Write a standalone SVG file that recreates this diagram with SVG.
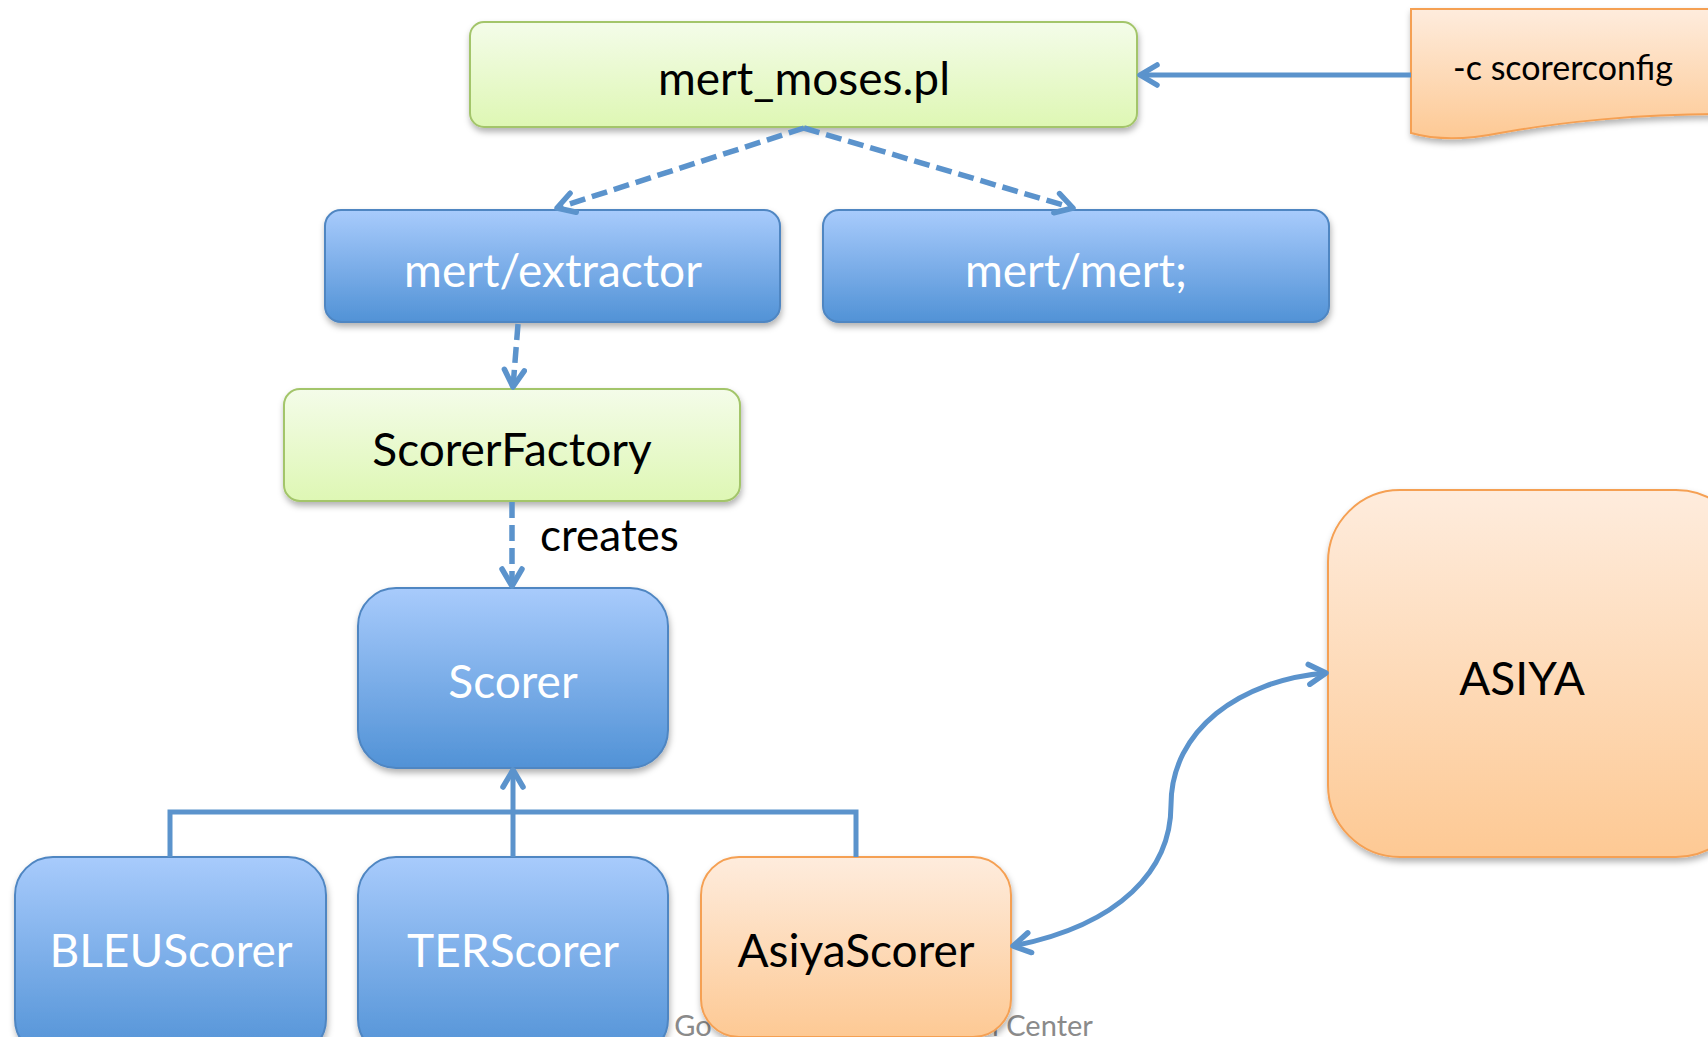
<svg xmlns="http://www.w3.org/2000/svg" width="1708" height="1037" viewBox="0 0 1708 1037">
<defs>
<linearGradient id="gGreen" x1="0" y1="0" x2="0" y2="1">
<stop offset="0" stop-color="#f4fce9"/>
<stop offset="1" stop-color="#def7b4"/>
</linearGradient>
<linearGradient id="gBlue" x1="0" y1="0" x2="0" y2="1">
<stop offset="0" stop-color="#a8cbfc"/>
<stop offset="1" stop-color="#5192d6"/>
</linearGradient>
<linearGradient id="gOrange" x1="0" y1="0" x2="0" y2="1">
<stop offset="0" stop-color="#feecdd"/>
<stop offset="1" stop-color="#fdc994"/>
</linearGradient>
<filter id="sh" x="-10%" y="-10%" width="120%" height="130%">
<feDropShadow dx="1" dy="4" stdDeviation="3" flood-color="#000" flood-opacity="0.3"/>
</filter>
<marker id="arr" viewBox="0 0 26 26" refX="22" refY="13" markerWidth="26" markerHeight="26" markerUnits="userSpaceOnUse" orient="auto-start-reverse">
<path d="M5,3 L22,13 L5,23" fill="none" stroke="#5b93cc" stroke-width="5.5" stroke-linecap="round" stroke-linejoin="round"/>
</marker>
</defs>
<style>
.green{fill:url(#gGreen);stroke:#a3c56a;stroke-width:2;filter:url(#sh)}
.blue{fill:url(#gBlue);stroke:#4f86c2;stroke-width:2;filter:url(#sh)}
.orange{fill:url(#gOrange);stroke:#f5a053;stroke-width:2;filter:url(#sh)}
.t{font-family:Lato,"Open Sans",sans-serif;font-size:46px;text-anchor:middle}
.dk{fill:#000}
.wh{fill:#fff}
.foot{font-family:Lato,"Open Sans",sans-serif;font-size:29px;fill:#8a8a8a}
.lbl{font-family:Lato,"Open Sans",sans-serif;font-size:44px;fill:#000}
.c{fill:none;stroke:#5b93cc;stroke-width:5}
.d{stroke-width:5.5;stroke-dasharray:16 7}
</style>

<g id="footer">
<text class="foot" x="660" y="1036">l Go</text>
<text class="foot" x="992" y="1036">l Center</text>
</g>

<g id="n_mert_moses">
<rect class="green" x="470" y="22" width="667" height="105" rx="14"/>
<text class="t dk" x="804" y="95">mert_moses.pl</text>
</g>

<g id="n_scorerconfig">
<path class="orange" d="M1411,9 H1720 V114 C1640,114 1560,122 1500,133 C1460,141 1432,139 1411,133 Z"/>
<text class="t dk" x="1563" y="80" style="font-size:34px">-c scorerconfig</text>
</g>

<g id="n_extractor">
<rect class="blue" x="325" y="210" width="455" height="112" rx="16"/>
<text class="t wh" x="553" y="287">mert/extractor</text>
</g>

<g id="n_mert">
<rect class="blue" x="823" y="210" width="506" height="112" rx="16"/>
<text class="t wh" x="1076" y="287">mert/mert;</text>
</g>

<g id="n_factory">
<rect class="green" x="284" y="389" width="456" height="112" rx="16"/>
<text class="t dk" x="512" y="466">ScorerFactory</text>
</g>

<g id="n_scorer">
<rect class="blue" x="358" y="588" width="310" height="180" rx="38"/>
<text class="t wh" x="513" y="698">Scorer</text>
</g>

<g id="n_bleu">
<rect class="blue" x="15" y="857" width="311" height="200" rx="38"/>
<text class="t wh" x="171" y="967">BLEUScorer</text>
</g>

<g id="n_ter">
<rect class="blue" x="358" y="857" width="310" height="200" rx="38"/>
<text class="t wh" x="513" y="967">TERScorer</text>
</g>

<g id="n_asiyascorer">
<rect class="orange" x="701" y="857" width="310" height="180" rx="38"/>
<text class="t dk" x="856" y="967">AsiyaScorer</text>
</g>

<g id="n_asiya">
<rect class="orange" x="1328" y="490" width="420" height="367" rx="72"/>
<text class="t dk" x="1522" y="695">ASIYA</text>
</g>

<g id="connectors">
<path class="c" d="M1411,75 L1140,75" marker-end="url(#arr)"/>
<path class="c d" d="M804,128 L557,208" marker-end="url(#arr)"/>
<path class="c d" d="M804,128 L1073,208" marker-end="url(#arr)"/>
<path class="c d" d="M518,324 L513,387" marker-end="url(#arr)"/>
<path class="c d" d="M512,502 L512,586" marker-end="url(#arr)"/>
<text class="lbl" x="540" y="551">creates</text>
<path class="c" d="M170,857 V812 H856 V857"/>
<path class="c" d="M513,857 V770" marker-end="url(#arr)"/>
<path class="c" d="M1013,946 C1120,925 1171,870 1171,805 C1171,730 1240,680 1326,673" marker-start="url(#arr)" marker-end="url(#arr)"/>
</g>
</svg>
